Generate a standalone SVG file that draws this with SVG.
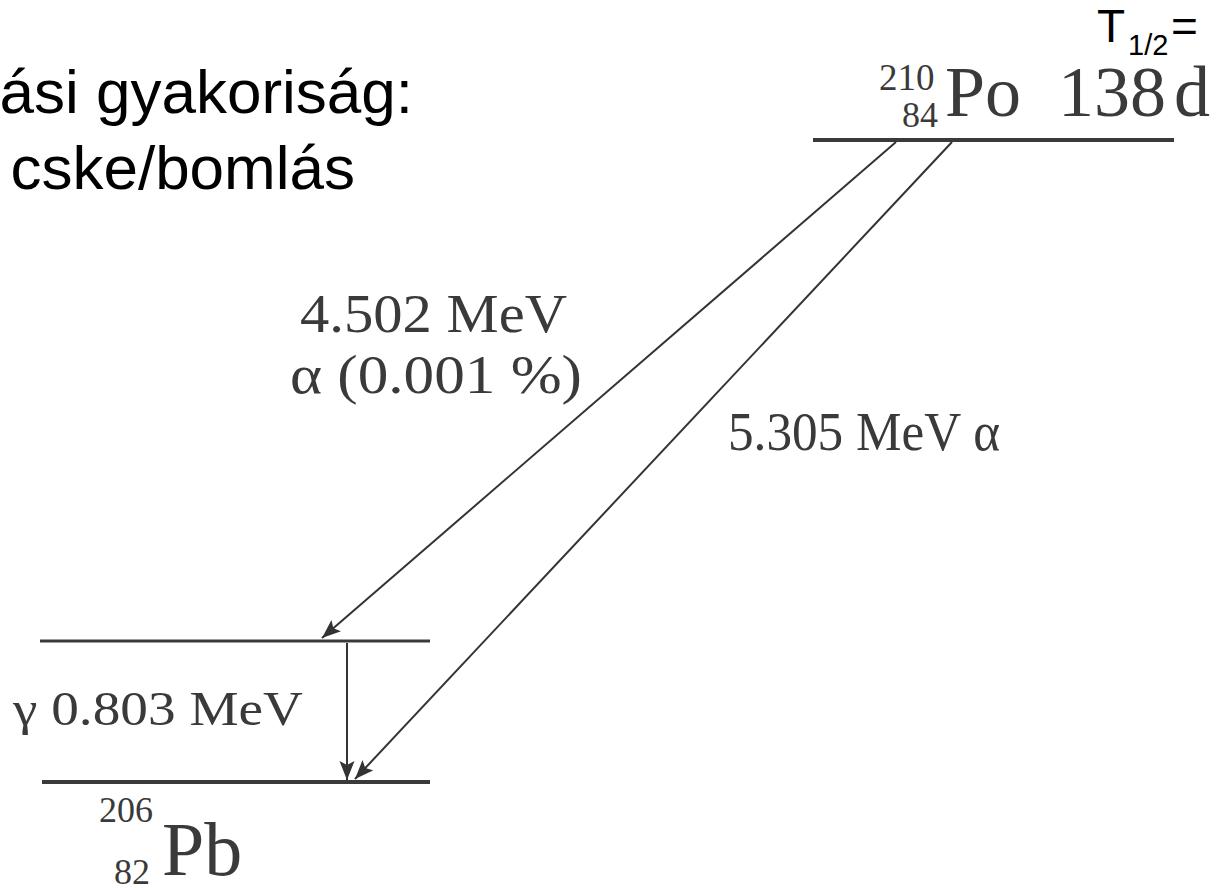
<svg xmlns="http://www.w3.org/2000/svg" width="1222" height="890" viewBox="0 0 1222 890">
<style>
.sans{font-family:"Liberation Sans",Arial,sans-serif;fill:#000}
.serif{font-family:"Liberation Serif","Times New Roman",serif;fill:#3a3a3a}
.lvl{stroke:#3a3a3a;stroke-linecap:butt}
.conn{stroke:#333;stroke-width:2;fill:none}
</style>
<defs>
<marker id="ah" markerUnits="userSpaceOnUse" markerWidth="22" markerHeight="16" refX="19" refY="7.5" orient="auto">
<path d="M0,0 L19,7.5 L0,15 L4,7.5 Z" fill="#333"/>
</marker>
</defs>
<rect width="1222" height="890" fill="#fff"/>
<g id="title">
<text class="sans" x="413" y="113" font-size="62" text-anchor="end">ási gyakoriság:</text>
<text class="sans" x="355" y="189" font-size="62" text-anchor="end">cske/bomlás</text>
</g>
<g id="halflife">
<text class="sans" x="1097" y="42" font-size="46">T</text>
<text class="sans" x="1128" y="55" font-size="29">1/2</text>
<text class="sans" x="1171" y="42" font-size="46">=</text>
</g>
<g id="po210">
<line class="lvl" x1="813" y1="140" x2="1174" y2="140" stroke-width="4"/>
<text class="serif" x="879" y="90" font-size="37">210</text>
<text class="serif" x="902" y="127" font-size="36">84</text>
<text class="serif" x="945" y="116" font-size="72">Po</text>
<text class="serif" x="1058" y="116" font-size="72" word-spacing="-10">138 d</text>
</g>
<g id="pb206-excited">
<line class="lvl" x1="40" y1="641" x2="430" y2="641" stroke-width="3"/>
</g>
<g id="pb206-ground">
<line class="lvl" x1="42" y1="782" x2="430" y2="782" stroke-width="4"/>
<text class="serif" x="99" y="822" font-size="36">206</text>
<text class="serif" x="114" y="884" font-size="36">82</text>
<text class="serif" x="162" y="875" font-size="76">Pb</text>
</g>
<g id="connectors">
<line class="conn" x1="896" y1="142" x2="322" y2="638" marker-end="url(#ah)"/>
<line class="conn" x1="952" y1="142" x2="355" y2="779" marker-end="url(#ah)"/>
<line class="conn" x1="347" y1="643" x2="347" y2="780" marker-end="url(#ah)"/>
</g>
<g id="labels">
<text class="serif" x="300" y="332" font-size="54" textLength="267" lengthAdjust="spacingAndGlyphs">4.502 MeV</text>
<text class="serif" x="290" y="393" font-size="54" textLength="292" lengthAdjust="spacingAndGlyphs">α (0.001 %)</text>
<text class="serif" x="728" y="450" font-size="54" textLength="272" lengthAdjust="spacingAndGlyphs">5.305 MeV α</text>
<text class="serif" x="13" y="725" font-size="48" textLength="290" lengthAdjust="spacingAndGlyphs">γ 0.803 MeV</text>
</g>
</svg>
